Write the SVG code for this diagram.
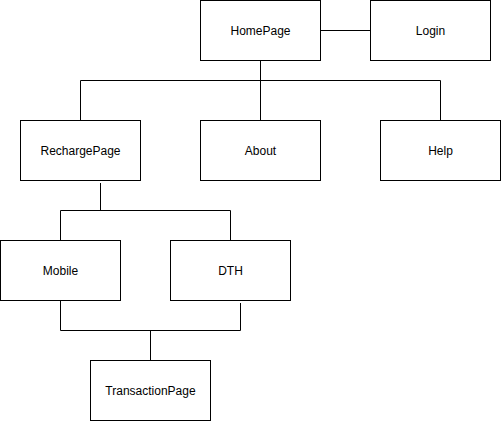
<svg xmlns="http://www.w3.org/2000/svg" width="501" height="421" viewBox="0 0 501 421">
<style>
rect{fill:#fff;stroke:#000;stroke-width:1}
path{fill:none;stroke:#000;stroke-width:1}
text{font-family:"Liberation Sans",Arial,sans-serif;font-size:12px;fill:#000;text-anchor:middle;dominant-baseline:central}
</style>
<rect x="0" y="0" width="501" height="421" style="stroke:none;fill:#fff"/>
<g id="connectors">
<path d="M320.5 30.5H370.5"/>
<path d="M260.5 60.5V120.5"/>
<path d="M80.5 120.5V80.5H440.5V120.5"/>
<path d="M100.5 183V210.5"/>
<path d="M60.5 240.5V210.5H230.5V240.5"/>
<path d="M60.5 300.5V330.5H240.5V303"/>
<path d="M150.5 330.5V360.5"/>
</g>
<g id="homepage"><rect x="200.5" y="0.5" width="120" height="60"/><text x="260.5" y="30.5">HomePage</text></g>
<g id="login"><rect x="370.5" y="0.5" width="120" height="60"/><text x="430.5" y="30.5">Login</text></g>
<g id="rechargepage"><rect x="20.5" y="120.5" width="120" height="60"/><text x="80.5" y="150.5">RechargePage</text></g>
<g id="about"><rect x="200.5" y="120.5" width="120" height="60"/><text x="260.5" y="150.5">About</text></g>
<g id="help"><rect x="380.5" y="120.5" width="120" height="60"/><text x="440.5" y="150.5">Help</text></g>
<g id="mobile"><rect x="0.5" y="240.5" width="120" height="60"/><text x="60.5" y="270.5">Mobile</text></g>
<g id="dth"><rect x="170.5" y="240.5" width="120" height="60"/><text x="230.5" y="270.5">DTH</text></g>
<g id="transactionpage"><rect x="90.5" y="360.5" width="120" height="60"/><text x="150.5" y="390.5">TransactionPage</text></g>
</svg>
